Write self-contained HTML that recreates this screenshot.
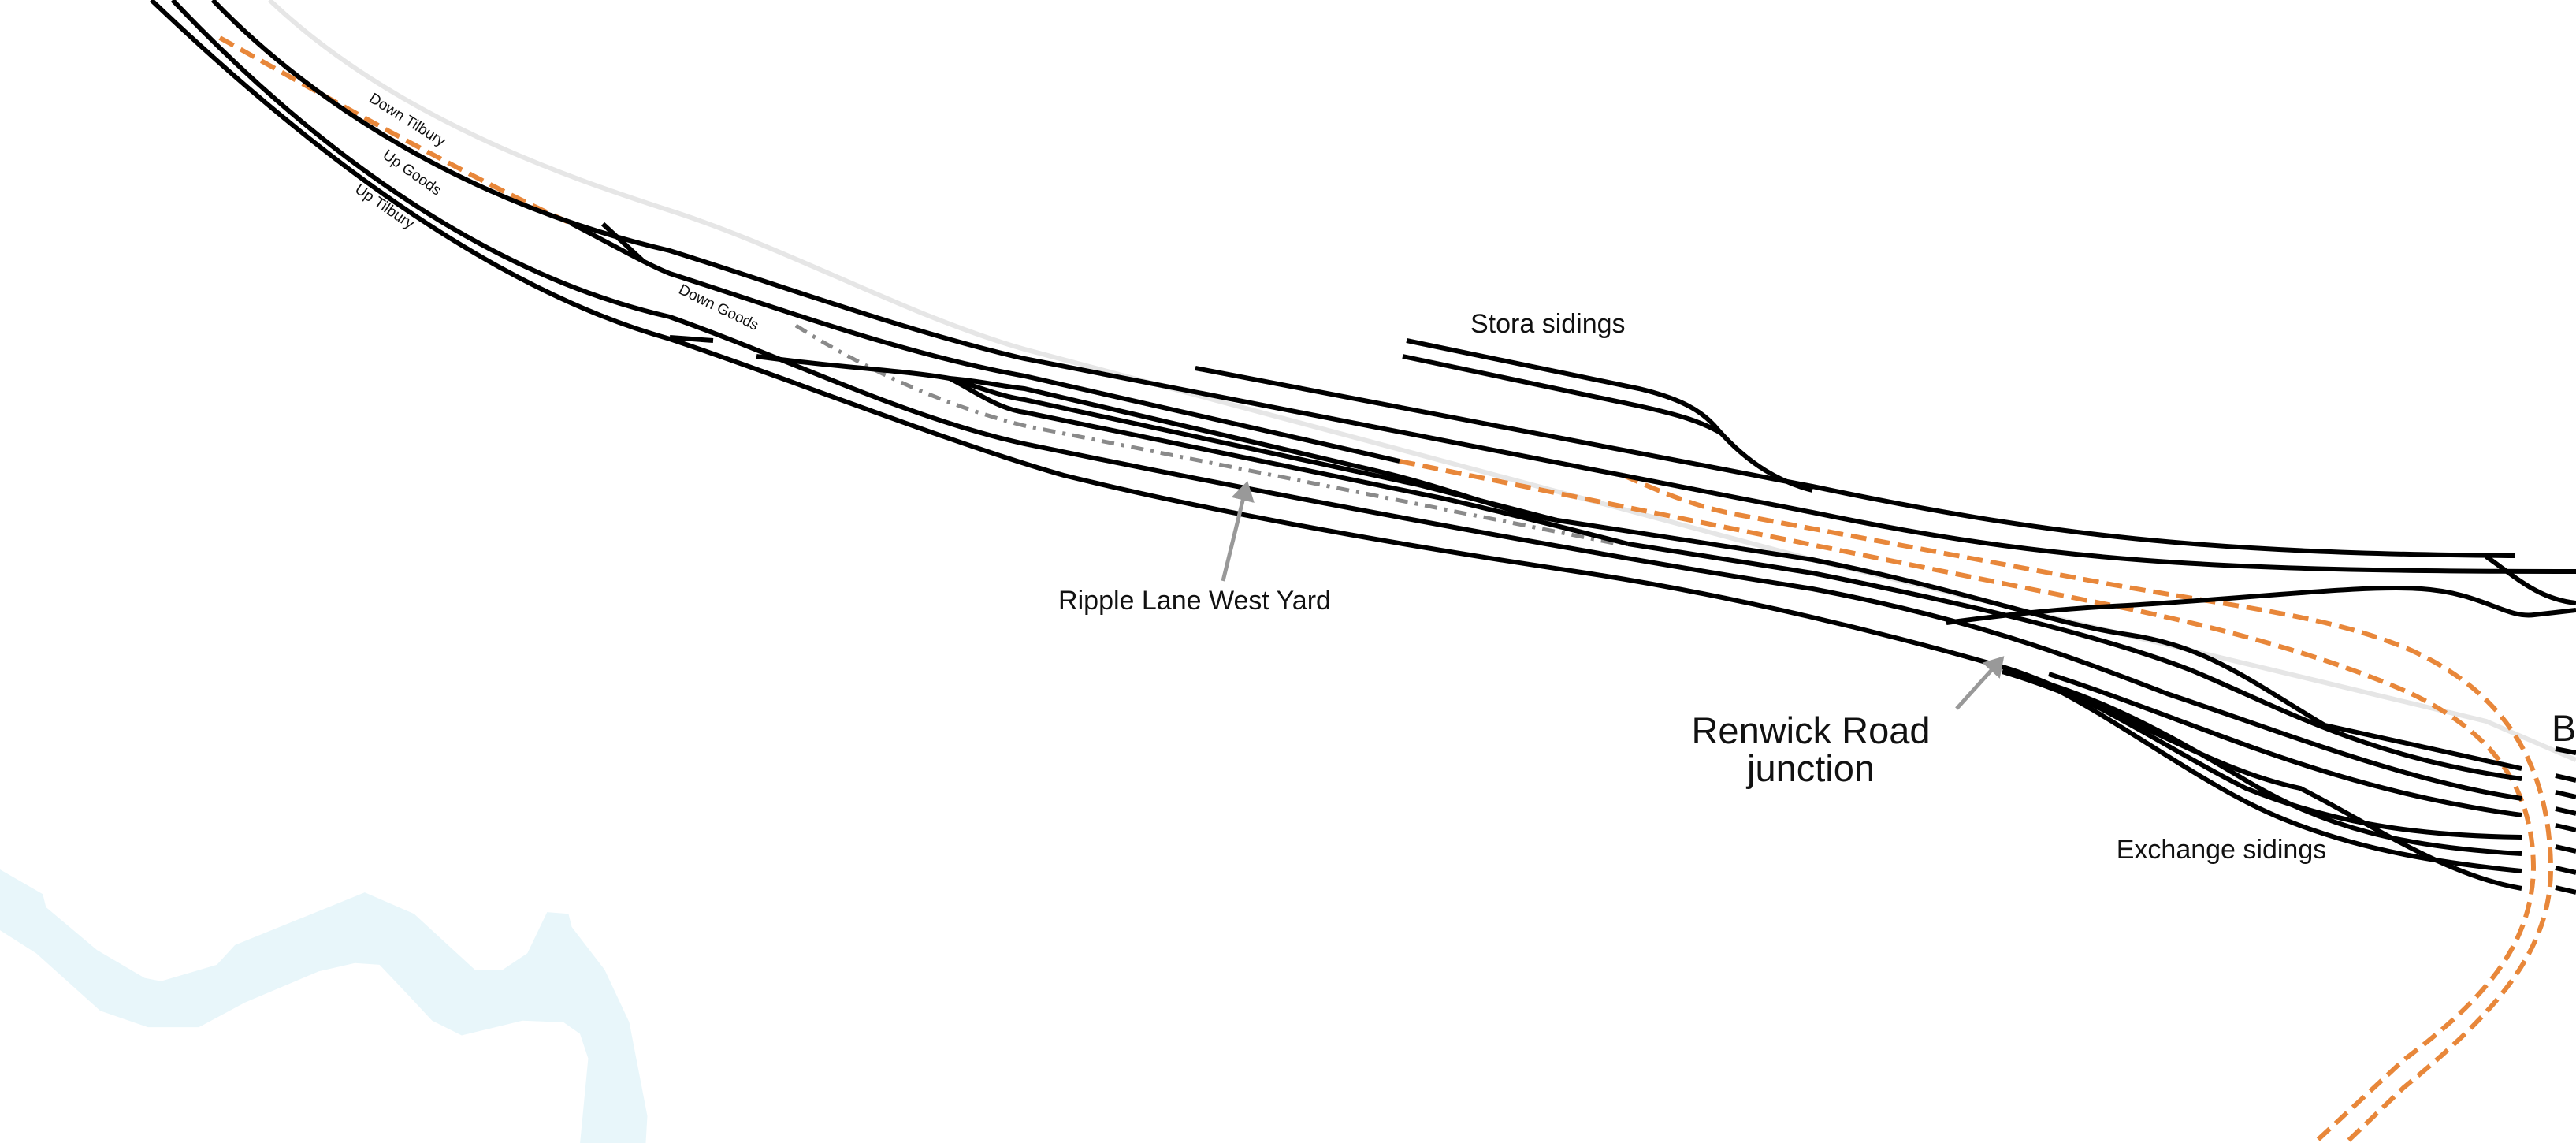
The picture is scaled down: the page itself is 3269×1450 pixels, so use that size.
<!DOCTYPE html>
<html><head><meta charset="utf-8"><style>
html,body{margin:0;padding:0;background:#fff;}
svg{display:block;}
text{font-family:"Liberation Sans",sans-serif;fill:#111;}
</style></head><body>
<svg width="3269" height="1450" viewBox="0 0 3269 1450" xmlns="http://www.w3.org/2000/svg">
<defs>
<marker id="ah" markerWidth="6" markerHeight="6" refX="4" refY="3" orient="auto" markerUnits="strokeWidth">
<path d="M0,0 L5,3 L0,6 z" fill="#999"/></marker>
</defs>
<g transform="scale(2.085)">
<polygon fill="#e8f6fa" points="0,529 26,544 28,552 59,578 88,595 98,597 132,587 143,575 222,543 252,556 289,590 306,590 321,580 333,555 346,556 348,564 368,590 383,622 394,679 393,696 353,696 358,644 353,629 343,622 318,621 281,630 263,621 249,606 231,587 216,586 194,591 149,610 121,625 90,625 61,615 22,580 0,566"/>
</g>
<g fill="none" stroke-linecap="butt">
<path d="M342,0 C500,150 720,225 850,267 C1000,315 1150,400 1300,443 L2300,710 L3155,915 L3269,964" stroke="#e6e6e6" stroke-width="6"/>
<g stroke="#e8873a" stroke-width="6" stroke-dasharray="20 10">
<path d="M279,48 C400,115 600,228 724,283"/>
<path d="M2060,603 C2110,625 2150,642 2200,652 L2677,741 C2850,772 2960,782 3060,825 C3170,875 3235,960 3237,1100 C3238,1210 3160,1290 3050,1380 L2977,1450"/>
<path d="M1776,585 L2200,671 L2650,762 C2820,795 2960,835 3060,880 C3175,935 3214,1010 3215,1100 C3214,1200 3150,1270 3050,1345 L2937,1450"/>
</g>
<path d="M1010,413 C1100,470 1200,515 1300,540 L2053,690" stroke="#8a8a8a" stroke-width="5" stroke-dasharray="16 9 4 9"/>
<g stroke="#000" stroke-width="6">
<path d="M270,0 C400,135 600,260 850,318 C1000,365 1150,420 1300,455 L2300,650 C2600,712 2800,725 3269,725"/>
<path d="M724,283 C780,312 820,335 850,347 C1000,395 1150,450 1300,477 L1776,585"/>
<path d="M765,284 L815,330"/>
<!-- Up Goods -->
<path d="M219,0 C380,170 600,345 850,402 C1000,455 1150,530 1300,563 C1600,625 2000,700 2300,747 C2500,785 2620,830 2750,880 C2900,930 3050,990 3200,1013"/>
<!-- Up Tilbury -->
<path d="M192,0 C360,160 600,360 850,430 C1000,480 1200,560 1350,603 C1500,640 1700,680 2000,725 C2200,755 2400,805 2548,848 C2650,880 2750,950 2850,1000 C2950,1040 3050,1060 3200,1062"/>
<path d="M850,428 L905,432"/>
<path d="M960,452 C1050,465 1150,470 1205,480"/>
<path d="M1205,480 C1250,484 1270,490 1300,493 L1750,598 C1850,622 1910,650 1976,660"/>
<path d="M1205,480 C1240,490 1270,503 1300,507 L1800,615 L1976,660"/>
<path d="M1205,480 C1235,495 1265,518 1300,523 L1830,632 C1900,648 1980,668 2066,690"/>
<path d="M1976,660 L2300,710 C2500,750 2600,790 2700,805 C2800,820 2850,860 2950,920 L3200,975"/>
<path d="M2066,690 L2300,727 C2450,757 2650,800 2780,850 C2900,900 3000,960 3200,988"/>
<path d="M1517,467 L2300,617 C2600,680 2800,702 3192,705"/>
<path d="M1785,432 L2080,493 C2130,505 2160,520 2180,545 C2220,590 2260,612 2300,622"/>
<path d="M1780,452 L2080,515 C2130,526 2160,535 2185,550"/>
<path d="M3155,706 C3190,730 3220,760 3269,765"/>
<path d="M2470,790 C2560,778 2620,772 2700,768 C2880,757 3000,742 3073,747 C3150,752 3180,785 3216,780 L3269,774"/>
<path d="M2600,855 C2800,920 2950,1000 3200,1034"/>
<path d="M2541,852 C2650,875 2750,930 2850,990 C2950,1050 3050,1075 3200,1083"/>
<path d="M2600,870 C2700,920 2800,1000 2900,1040 C3000,1080 3100,1095 3200,1105"/>
<path d="M2541,852 C2700,900 2800,975 2919,1000 C3000,1040 3100,1110 3200,1127"/>
<path d="M3243,950 L3269,955 M3243,984 L3269,990 M3243,1005 L3269,1011 M3243,1026 L3269,1032 M3243,1047 L3269,1053 M3243,1074 L3269,1080 M3243,1101 L3269,1107 M3243,1126 L3269,1132"/>
</g>
<path d="M1552,737 L1582,615" stroke="#999" stroke-width="5" marker-end="url(#ah)"/>
<path d="M2483,899 L2540,836" stroke="#999" stroke-width="5" marker-end="url(#ah)"/>
</g>
<text x="517" y="158" font-size="19" text-anchor="middle" transform="rotate(32 517 152)">Down Tilbury</text>
<text x="523" y="225" font-size="19" text-anchor="middle" transform="rotate(35 523 219)">Up Goods</text>
<text x="488" y="268" font-size="19" text-anchor="middle" transform="rotate(34 488 262)">Up Tilbury</text>
<text x="912" y="396" font-size="19" text-anchor="middle" transform="rotate(26 912 390)">Down Goods</text>
<text x="1866" y="422" font-size="34">Stora sidings</text>
<text x="1516" y="773" font-size="34" text-anchor="middle">Ripple Lane West Yard</text>
<text x="2298" y="943" font-size="47" text-anchor="middle">Renwick Road</text>
<text x="2298" y="991" font-size="47" text-anchor="middle">junction</text>
<text x="2819" y="1089" font-size="34" text-anchor="middle">Exchange sidings</text>
<text x="3238" y="940" font-size="47">B</text>
</svg>
</body></html>
